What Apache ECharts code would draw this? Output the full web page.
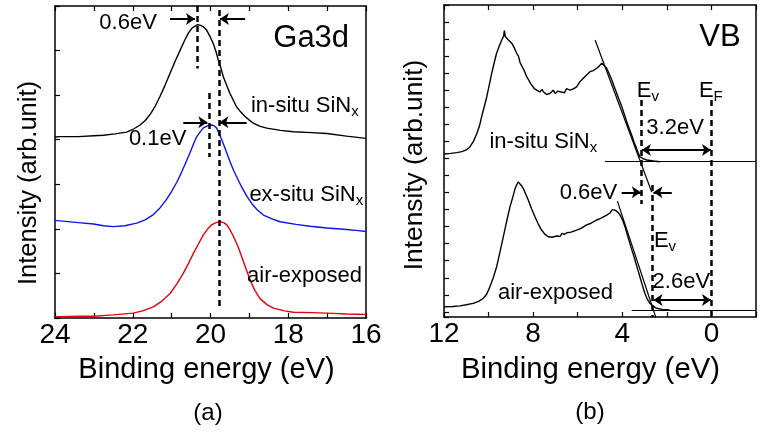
<!DOCTYPE html>
<html><head><meta charset="utf-8">
<script src="https://cdn.jsdelivr.net/npm/echarts@6/dist/echarts.min.js"></script>
<style>html,body{margin:0;padding:0;background:#fff}#c{width:760px;height:434px}</style>
</head><body><div id="c"></div>
<script>
// ---------- Panel (a): Ga3d core level, [binding energy eV, intensity a.u.]
const ga3dInSitu = [[24,4.06],[23.87,4.07],[23.4,4.07],[23.0,4.09],[22.76,4.10],[22.45,4.13],[22.16,4.17],[21.98,4.24],[21.81,4.33],[21.68,4.43],[21.56,4.56],[21.43,4.74],[21.30,4.97],[21.17,5.22],[21.04,5.49],[20.91,5.76],[20.78,6.01],[20.67,6.22],[20.57,6.39],[20.48,6.50],[20.40,6.55],[20.33,6.58],[20.27,6.57],[20.18,6.53],[20.10,6.46],[20.02,6.33],[19.93,6.16],[19.86,5.98],[19.80,5.79],[19.73,5.60],[19.67,5.41],[19.58,5.21],[19.50,5.04],[19.41,4.88],[19.33,4.74],[19.22,4.62],[19.11,4.52],[19.0,4.44],[18.90,4.37],[18.72,4.30],[18.55,4.26],[18.2,4.21],[17.87,4.18],[17.4,4.16],[17.01,4.14],[16.5,4.08],[16.0,4.03]];
const ga3dExSitu = [[24,2.19],[23.87,2.18],[23.4,2.14],[23.01,2.11],[22.75,2.07],[22.50,2.05],[22.2,2.07],[21.90,2.13],[21.68,2.20],[21.47,2.32],[21.30,2.47],[21.13,2.66],[21.0,2.84],[20.87,3.04],[20.76,3.24],[20.66,3.44],[20.53,3.70],[20.44,3.90],[20.36,4.06],[20.27,4.17],[20.19,4.26],[20.08,4.31],[19.97,4.33],[19.90,4.31],[19.84,4.26],[19.76,4.10],[19.67,3.91],[19.58,3.70],[19.50,3.51],[19.41,3.32],[19.30,3.12],[19.20,2.94],[19.07,2.74],[18.94,2.57],[18.8,2.43],[18.64,2.31],[18.4,2.22],[18.21,2.16],[17.8,2.10],[17.44,2.06],[17.0,2.02],[16.58,1.99],[16.2,1.96],[16.0,1.94]];
const ga3dAir = [[24,0.03],[23.87,0.03],[23.4,0.04],[23.01,0.04],[22.5,0.07],[21.99,0.11],[21.75,0.16],[21.47,0.25],[21.25,0.38],[21.04,0.55],[20.87,0.76],[20.70,1.00],[20.57,1.22],[20.44,1.45],[20.31,1.66],[20.19,1.86],[20.08,1.99],[19.97,2.09],[19.86,2.14],[19.76,2.16],[19.66,2.14],[19.58,2.09],[19.50,1.98],[19.41,1.83],[19.30,1.62],[19.20,1.38],[19.09,1.11],[18.98,0.85],[18.86,0.62],[18.73,0.44],[18.55,0.30],[18.38,0.22],[18.1,0.16],[17.87,0.13],[17.4,0.12],[17.01,0.11],[16.5,0.09],[16.0,0.08]];

// ---------- Panel (b): valence band, [binding energy eV, intensity a.u.]
const vbInSitu = [[12.0,9.56],[11.7,9.60],[11.43,9.64],[11.2,9.70],[11.0,9.80],[10.83,9.99],[10.68,10.3],[10.53,10.75],[10.41,11.2],[10.31,11.75],[10.2,12.3],[10.08,12.92],[9.97,13.6],[9.86,14.29],[9.75,14.9],[9.64,15.47],[9.52,15.9],[9.41,16.25],[9.33,16.45],[9.29,16.8],[9.25,16.45],[9.18,16.55],[9.11,16.25],[9.04,16.35],[8.96,16.06],[8.85,15.8],[8.74,15.47],[8.66,15.3],[8.58,14.9],[8.51,14.88],[8.42,14.5],[8.36,14.6],[8.29,14.10],[8.2,13.9],[8.12,13.7],[8.06,13.61],[7.95,13.4],[7.84,13.31],[7.7,13.2],[7.6,13.35],[7.54,13.21],[7.4,13.05],[7.24,13.12],[7.1,13.3],[7.0,13.1],[6.9,13.25],[6.79,13.21],[6.6,13.15],[6.5,13.4],[6.35,13.31],[6.2,13.38],[6.05,13.50],[5.9,13.8],[5.75,14.00],[5.6,14.2],[5.45,14.39],[5.3,14.45],[5.15,14.59],[5.05,14.7],[4.92,14.88],[4.82,14.75],[4.70,14.59],[4.6,14.3],[4.47,13.90],[4.36,13.5],[4.25,13.12],[4.13,12.7],[4.02,12.34],[3.91,11.9],[3.80,11.46],[3.69,11.05],[3.58,10.68],[3.47,10.25],[3.36,9.89],[3.28,9.6],[3.21,9.40],[3.05,9.27],[2.90,9.21],[2.6,9.15],[2.31,9.11]];
const vbAir = [[12.0,0.60],[11.6,0.62],[11.28,0.65],[11.0,0.72],[10.69,0.80],[10.45,0.92],[10.24,1.09],[10.08,1.35],[9.94,1.77],[9.79,2.3],[9.64,2.94],[9.49,3.8],[9.34,4.70],[9.19,5.6],[9.04,6.46],[8.92,7.0],[8.81,7.53],[8.72,7.8],[8.67,7.92],[8.6,7.85],[8.52,7.7],[8.44,7.53],[8.33,7.2],[8.22,6.86],[8.07,6.35],[7.92,5.88],[7.77,5.45],[7.62,5.10],[7.47,4.85],[7.32,4.71],[7.15,4.68],[6.94,4.75],[6.8,4.72],[6.7,4.9],[6.6,4.85],[6.49,4.94],[6.3,4.98],[6.05,5.10],[5.85,5.2],[5.60,5.40],[5.4,5.5],[5.15,5.69],[4.95,5.8],[4.70,5.98],[4.55,6.1],[4.45,6.3],[4.40,6.22],[4.3,6.25],[4.2,6.15],[4.10,5.98],[3.99,5.7],[3.88,5.30],[3.77,4.8],[3.66,4.32],[3.55,3.85],[3.43,3.34],[3.32,2.85],[3.21,2.36],[3.10,1.87],[2.99,1.39],[2.88,1.05],[2.76,0.80],[2.6,0.62],[2.46,0.51],[2.2,0.45],[1.87,0.41]];
// linear extrapolations and background lines in (b)
const vbFitLines = [[[5.22,16.25],[2.68,7.33]], [[4.22,6.8],[2.5,0]]];
const vbBaselines = [[[4.78,9.11],[-2,9.11]], [[3.58,0.41],[-2,0.41]]];

// ---------- Tick labels
const ticksA = [24, 22, 20, 18, 16];
const ticksB = [12, 8, 4, 0];

// ---------- Annotations
const dashedA = [[[20.35,7],[20.35,5.6]], [[19.77,6.91],[19.77,0.22]], [[20.03,5.05],[20.03,3.61]]];
const arrowsA = [[[21.04,6.71],[20.40,6.71]], [[19.11,6.71],[19.76,6.71]], [[20.70,4.39],[20.08,4.39]], [[19.07,4.39],[19.77,4.39]]];
const textsA = [
  {text:'0.6eV', at:[22.12,6.62], anchor:'center'},
  {text:'0.1eV', at:[21.36,4.02], anchor:'center'},
  {text:'in-situ SiN{s|x}', at:[18.96,4.76], anchor:'left'},
  {text:'ex-situ SiN{s|x}', at:[19.0,2.76], anchor:'left'},
  {text:'air-exposed', at:[19.06,0.94], anchor:'left'}
];
const dashedB = [[[3.13,12.73],[3.13,6.63]], [[0,12.73],[0,0]], [[2.64,7.74],[2.64,0]]];
const doubleArrowsB = [[[3.12,9.79],[0.02,9.79]], [[2.60,0.99],[0.02,0.99]]];
const arrowsB = [[[4.03,7.31],[3.17,7.31]], [[1.78,7.31],[2.60,7.31]]];
const textsB = [
  {text:'E{s|v}', at:[3.35,13.25], anchor:'left'},
  {text:'E{s|F}', at:[0.56,13.25], anchor:'left'},
  {text:'3.2eV', at:[1.63,11.06], anchor:'center'},
  {text:'0.6eV', at:[5.52,7.27], anchor:'center'},
  {text:'E{s|v}', at:[2.58,4.46], anchor:'left'},
  {text:'2.6eV', at:[1.35,2.08], anchor:'center'},
  {text:'in-situ SiN{s|x}', at:[9.96,10.29], anchor:'left'},
  {text:'air-exposed', at:[9.58,1.41], anchor:'left'}
];
const panelTitles = [{text:'Ga3d', at:[17.41,6.28], panel:0}, {text:'VB', at:[-0.38,16.42], panel:1}];
const panelLetters = ['(a)', '(b)'];
const xTitle = 'Binding energy (eV)';
const yTitle = 'Intensity (arb.unit)';

// ---------- Chart
const FONT = 'Liberation Sans, Arial, Helvetica, sans-serif';
const chart = echarts.init(document.getElementById('c'), null, {renderer:'canvas'});
const black = '#000';
const axLine = {show:true, onZero:false, lineStyle:{color:black, width:1.5}};
const tickIn = {show:true, inside:true, length:5, lineStyle:{color:black, width:1.2}};

function xAx(grid, min, max, interval, labels, pos) {
  const a = {gridIndex:grid, type:'value', min, max, interval, inverse:true, position:pos,
    axisLine:axLine, axisTick:tickIn, splitLine:{show:false}};
  if (pos === 'bottom') {
    a.axisLabel = {show:true, margin:3, fontSize:28, color:black, fontFamily:FONT,
      formatter: v => labels.includes(v) ? String(v) : ''};
  } else {
    a.axisLabel = {show:false};
  }
  return a;
}
function yAx(grid, max, pos, ticks, inverse) {
  const a = {gridIndex:grid, type:'value', min:0, max, position:pos, offset:0,
    axisLine: ticks === 'only' ? {show:false, onZero:false} : axLine,
    axisTick: ticks ? tickIn : {show:false}, axisLabel:{show:false}, splitLine:{show:false}};
  if (ticks) a.interval = 1;
  if (inverse) a.inverse = true;
  return a;
}
function segs(list) { return list.map(c => ({coords:c})); }
function lineSeg(xi, yi, list, style, symbol) {
  return {type:'lines', coordinateSystem:'cartesian2d', xAxisIndex:xi, yAxisIndex:yi,
    data:segs(list), lineStyle:style, symbol:symbol || ['none','none'], symbolSize:9,
    silent:true, animation:false, z:5};
}
function texts(xi, yi, list, size) {
  return {type:'scatter', xAxisIndex:xi, yAxisIndex:yi, symbolSize:1, silent:true, animation:false,
    itemStyle:{color:'rgba(0,0,0,0)', opacity:1}, z:6,
    data:list.map(t => ({value:t.at, label:{formatter:t.text, align:t.anchor}})),
    label:{show:true, position:'inside', verticalAlign:'middle', fontSize:size, color:black, fontFamily:FONT,
      opacity:1, textBorderWidth:0, textBorderColor:'transparent', textShadowBlur:0,
      rich:{s:{fontSize:Math.round(size*0.66), color:black, fontFamily:FONT, textBorderWidth:0,
        padding:[Math.round(size*0.55),0,0,0]}}}};
}
function curve(xi, yi, data, color) {
  return {type:'line', xAxisIndex:xi, yAxisIndex:yi, data, showSymbol:false, symbol:'none',
    lineStyle:{color, width:1.4}, itemStyle:{color}, animation:false, silent:true, z:4};
}
const dashStyle = {color:black, width:2.5, type:[6,4], opacity:1, curveness:0};
const thin = {color:black, width:1.2, type:'solid', opacity:1, curveness:0};
const arrowStyle = {color:black, width:2, type:'solid', opacity:1, curveness:0};
function gtext(x, y, text, size, rot) {
  return {type:'text', x, y, rotation: rot || 0,
    style:{text, fill:black, font: size + 'px ' + FONT, align:'center', verticalAlign:'middle'}};
}

const option = {
  backgroundColor:'#fff',
  textStyle:{fontFamily:FONT},
  grid:[
    {left:55, top:6, width:311, height:312},
    {left:444, top:5, width:312, height:312}
  ],
  xAxis:[
    xAx(0, 16, 24, 1, ticksA, 'bottom'),
    xAx(0, 16, 24, 1, ticksA, 'top'),
    xAx(1, -2, 12, 2, ticksB, 'bottom'),
    xAx(1, -2, 12, 2, ticksB, 'top')
  ],
  yAxis:[
    yAx(0, 7, 'left', true, false),
    yAx(0, 7, 'right', false, false),
    yAx(1, 18.3, 'left', false, false),
    yAx(1, 18.3, 'left', 'only', true),
    yAx(1, 18.3, 'right', false, false)
  ],
  graphic:[
    gtext(29, 183, yTitle, 25.5, Math.PI/2),
    gtext(415, 165, yTitle, 26.3, Math.PI/2),
    gtext(206.5, 370, xTitle, 29),
    gtext(590.5, 370, xTitle, 29.3),
    gtext(208, 413, panelLetters[0], 24),
    gtext(590, 412, panelLetters[1], 24)
  ],
  series:[
    curve(0,0, ga3dInSitu, '#000000'),
    curve(0,0, ga3dExSitu, '#0a14f0'),
    curve(0,0, ga3dAir, '#e8000a'),
    lineSeg(0,0, dashedA, dashStyle),
    lineSeg(0,0, arrowsA, arrowStyle, ['none','arrow']),
    texts(0,0, textsA, 22),
    texts(0,0, panelTitles.filter(p=>p.panel===0).map(p=>({text:p.text, at:p.at, anchor:'center'})), 31),
    curve(2,2, vbInSitu, '#000000'),
    curve(2,2, vbAir, '#000000'),
    lineSeg(2,2, vbFitLines, thin),
    lineSeg(2,2, vbBaselines, thin),
    lineSeg(2,2, dashedB, dashStyle),
    lineSeg(2,2, doubleArrowsB, arrowStyle, ['arrow','arrow']),
    lineSeg(2,2, arrowsB, arrowStyle, ['none','arrow']),
    texts(2,2, textsB, 22),
    texts(2,2, panelTitles.filter(p=>p.panel===1).map(p=>({text:p.text, at:p.at, anchor:'center'})), 31)
  ]
};
chart.setOption(option);
</script>
</body></html>
